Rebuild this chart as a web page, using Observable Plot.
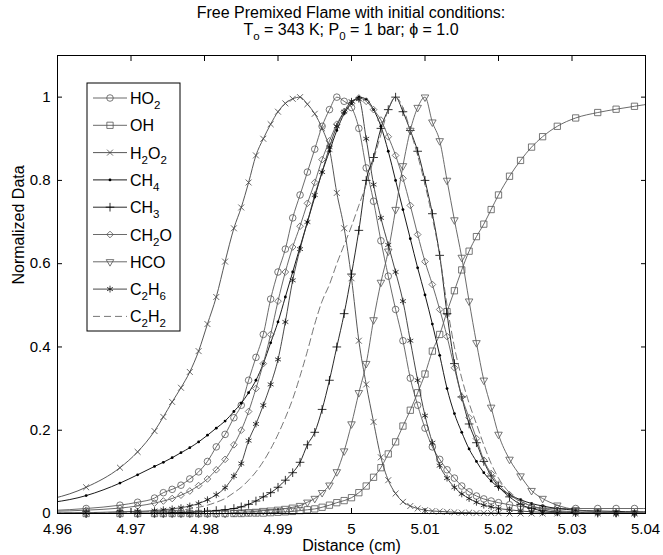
<!DOCTYPE html>
<html>
<head>
<meta charset="utf-8">
<script src="https://cdn.jsdelivr.net/npm/d3@7"></script>
<script src="https://cdn.jsdelivr.net/npm/@observablehq/plot@0.6"></script>
<style>
  html, body { margin: 0; padding: 0; background: #fff; overflow: hidden; }
</style>
</head>
<body>
<div id="chart"></div>
<script>
// ---------- data ----------
const distance = [4.955, 4.9639, 4.9685, 4.9709, 4.9732, 4.9744, 4.9756, 4.9768, 4.978, 4.9792, 4.9804, 4.9816, 4.9828, 4.984,
  4.985, 4.986, 4.987, 4.988, 4.989, 4.990, 4.991, 4.992, 4.993, 4.994, 4.995, 4.996, 4.997, 4.998, 4.999, 5.000,
  5.001, 5.002, 5.003, 5.004, 5.005, 5.006, 5.007, 5.008, 5.009, 5.010, 5.011, 5.012, 5.013, 5.014, 5.015, 5.016,
  5.017, 5.018, 5.019, 5.020, 5.0215, 5.023, 5.0245, 5.026, 5.028, 5.0305, 5.0335, 5.036, 5.0385, 5.041];

const HO2 = [0.005, 0.012, 0.02, 0.027, 0.037, 0.05, 0.058, 0.068, 0.083, 0.1, 0.125, 0.16, 0.19, 0.23,
  0.26, 0.32, 0.375, 0.43, 0.515, 0.58, 0.635, 0.71, 0.765, 0.82, 0.875, 0.93, 0.97, 1.0, 0.99, 0.975,
  0.925, 0.83, 0.75, 0.655, 0.57, 0.49, 0.415, 0.325, 0.26, 0.205, 0.16, 0.13, 0.105, 0.085, 0.066, 0.052,
  0.042, 0.035, 0.03, 0.026, 0.021, 0.017, 0.014, 0.013, 0.012, 0.012, 0.012, 0.012, 0.012, 0.012];

const OH = [0, 0, 0, 0, 0, 0, 0, 0, 0, 0, 0, 0, 0, 0,
  0, 0.001, 0.001, 0.001, 0.002, 0.003, 0.004, 0.005, 0.007, 0.009, 0.011, 0.015, 0.02, 0.026, 0.031, 0.038,
  0.05, 0.066, 0.087, 0.11, 0.143, 0.172, 0.21, 0.248, 0.29, 0.335, 0.39, 0.43, 0.485, 0.535, 0.585, 0.63,
  0.665, 0.695, 0.73, 0.765, 0.81, 0.848, 0.88, 0.905, 0.93, 0.95, 0.963, 0.971, 0.978, 0.985];

const H2O2 = [0.022, 0.063, 0.11, 0.148, 0.198, 0.232, 0.268, 0.302, 0.34, 0.39, 0.455, 0.52, 0.605, 0.685,
  0.735, 0.795, 0.86, 0.9, 0.935, 0.965, 0.985, 0.996, 1.0, 0.983, 0.96, 0.925, 0.875, 0.77, 0.685, 0.565,
  0.415, 0.31, 0.22, 0.135, 0.08, 0.048, 0.028, 0.018, 0.012, 0.008, 0.006, 0.005, 0.004, 0.003, 0.002, 0.002,
  0.001, 0.001, 0.001, 0.001, 0, 0, 0, 0, 0, 0, 0, 0, 0, 0];

const CH4 = [0.02, 0.043, 0.073, 0.093, 0.113, 0.123, 0.134, 0.146, 0.158, 0.172, 0.188, 0.205, 0.222, 0.245,
  0.265, 0.29, 0.32, 0.36, 0.41, 0.46, 0.52, 0.58, 0.64, 0.70, 0.76, 0.82, 0.87, 0.92, 0.96, 0.985,
  1.0, 0.995, 0.97, 0.93, 0.87, 0.80, 0.73, 0.66, 0.59, 0.525, 0.455, 0.38, 0.30, 0.24, 0.195, 0.155,
  0.125, 0.098, 0.078, 0.063, 0.045, 0.033, 0.024, 0.018, 0.012, 0.008, 0.006, 0.005, 0.004, 0.004];

const CH3 = [0, 0, 0, 0.001, 0.001, 0.001, 0.002, 0.002, 0.003, 0.004, 0.005, 0.007, 0.009, 0.012,
  0.016, 0.022, 0.03, 0.04, 0.05, 0.063, 0.08, 0.098, 0.123, 0.165, 0.195, 0.25, 0.32, 0.40, 0.48, 0.575,
  0.68, 0.80, 0.855, 0.925, 0.97, 1.0, 0.965, 0.92, 0.87, 0.80, 0.72, 0.62, 0.48, 0.36, 0.28, 0.215,
  0.17, 0.125, 0.09, 0.065, 0.04, 0.022, 0.012, 0.007, 0.004, 0.002, 0.001, 0.001, 0, 0];

const CH2O = [0.004, 0.008, 0.013, 0.018, 0.025, 0.03, 0.036, 0.044, 0.054, 0.067, 0.083, 0.105, 0.13, 0.165,
  0.2, 0.245, 0.3, 0.36, 0.43, 0.51, 0.58, 0.64, 0.69, 0.745, 0.795, 0.85, 0.895, 0.935, 0.965, 0.985,
  0.998, 0.99, 0.97, 0.945, 0.905, 0.86, 0.805, 0.74, 0.67, 0.605, 0.55, 0.49, 0.425, 0.35, 0.28, 0.23,
  0.18, 0.128, 0.096, 0.07, 0.045, 0.029, 0.018, 0.012, 0.007, 0.004, 0.003, 0.002, 0.002, 0.002];

const HCO = [0, 0, 0, 0, 0, 0, 0, 0, 0, 0, 0, 0, 0, 0.002,
  0.003, 0.004, 0.005, 0.007, 0.008, 0.01, 0.012, 0.015, 0.019, 0.027, 0.036, 0.05, 0.068, 0.1, 0.15, 0.215,
  0.29, 0.36, 0.465, 0.555, 0.63, 0.73, 0.835, 0.92, 0.975, 1.0, 0.94, 0.895, 0.80, 0.705, 0.615, 0.51,
  0.41, 0.32, 0.255, 0.19, 0.13, 0.09, 0.055, 0.036, 0.02, 0.009, 0.004, 0.002, 0.001, 0.001];

const C2H6 = [0.001, 0.002, 0.004, 0.005, 0.007, 0.009, 0.011, 0.014, 0.018, 0.024, 0.033, 0.045, 0.062, 0.09,
  0.12, 0.175, 0.215, 0.26, 0.31, 0.37, 0.46, 0.56, 0.635, 0.70, 0.765, 0.82, 0.88, 0.93, 0.965, 0.99,
  0.995, 0.90, 0.79, 0.71, 0.645, 0.58, 0.51, 0.415, 0.32, 0.235, 0.17, 0.115, 0.085, 0.063, 0.047, 0.036,
  0.027, 0.02, 0.016, 0.012, 0.009, 0.006, 0.004, 0.003, 0.002, 0.001, 0.001, 0, 0, 0];

const C2H2 = [0.001, 0.002, 0.003, 0.004, 0.005, 0.006, 0.007, 0.008, 0.011, 0.015, 0.02, 0.027, 0.036, 0.05,
  0.063, 0.08, 0.1, 0.125, 0.155, 0.19, 0.23, 0.275, 0.33, 0.39, 0.455, 0.51, 0.55, 0.6, 0.645, 0.69,
  0.74, 0.79, 0.85, 0.91, 0.97, 1.0, 0.975, 0.92, 0.86, 0.79, 0.71, 0.62, 0.5, 0.40, 0.325, 0.265,
  0.215, 0.165, 0.12, 0.085, 0.05, 0.03, 0.018, 0.01, 0.005, 0.003, 0.002, 0.001, 0.001, 0];

const species = ["HO2", "OH", "H2O2", "CH4", "CH3", "CH2O", "HCO", "C2H6", "C2H2"];
const xTicks = [4.96, 4.97, 4.98, 4.99, 5.00, 5.01, 5.02, 5.03, 5.04];
const xTickLabels = ["4.96", "4.97", "4.98", "4.99", "5", "5.01", "5.02", "5.03", "5.04"];
const yTicks = [0, 0.2, 0.4, 0.6, 0.8, 1.0];
const yTickLabels = ["0", "0.2", "0.4", "0.6", "0.8", "1"];
const titleLine1 = "Free Premixed Flame with initial conditions:";
const titleLine2 = [["T", false], ["o", true], [" = 343 K; P", false], ["0", true], [" = 1 bar; \u03d5 = 1.0", false]];
const xLabel = "Distance (cm)";
const yLabel = "Normalized Data";

// ---------- styles ----------
const FONT = '"Liberation Sans", Arial, Helvetica, sans-serif';
const W = 663, H = 555;
const M = {top: 55, right: 18, bottom: 42, left: 57};
const xDomain = [4.96, 5.04];
const yDomain = [0, 1.1];

const styles = {
  HO2:  {line: "#5a5a5a", symbol: "circle",    r: 3.3, mark: "#555", fill: "none"},
  OH:   {line: "#5a5a5a", symbol: "square2",   r: 4.0, mark: "#555", fill: "none"},
  H2O2: {line: "#444",    symbol: "times",     r: 2.8, mark: "#444", fill: "none"},
  CH4:  {line: "#000",    symbol: "circle",    r: 1.4, mark: "none", fill: "#000"},
  CH3:  {line: "#111",    symbol: "plus",      r: 2.9, mark: "#000", fill: "none"},
  CH2O: {line: "#5a5a5a", symbol: "diamond2",  r: 3.0, mark: "#555", fill: "none"},
  HCO:  {line: "#5a5a5a", symbol: "triangle2", r: 3.6, mark: "#555", fill: "none", rotate: 180},
  C2H6: {line: "#333",    symbol: "asterisk",  r: 3.2, mark: "#111", fill: "none"},
  C2H2: {line: "#666",    symbol: null, dash: "7,4"}
};
const valuesBy = {HO2, OH, H2O2, CH4, CH3, CH2O, HCO, C2H6, C2H2};
const symbolFns = {
  circle: d3.symbolCircle, square2: d3.symbolSquare2, times: d3.symbolTimes, plus: d3.symbolPlus,
  diamond2: d3.symbolDiamond2, triangle2: d3.symbolTriangle2, asterisk: d3.symbolAsterisk
};

// ---------- marks ----------
const marks = [];
for (const name of species) {
  const st = styles[name];
  const rows = distance.map((x, i) => ({x, y: valuesBy[name][i]}));
  marks.push(Plot.line(rows, {
    x: "x", y: "y", stroke: st.line, strokeWidth: 0.9, curve: "monotone-x", clip: true,
    strokeDasharray: st.dash
  }));
  if (st.symbol) {
    marks.push(Plot.dot(rows.filter(d => d.x >= xDomain[0] && d.x <= xDomain[1]), {
      x: "x", y: "y", symbol: st.symbol, r: st.r, stroke: st.mark, fill: st.fill,
      strokeWidth: 0.8, rotate: st.rotate || 0
    }));
  }
}

const fmtX = d => xTickLabels[xTicks.indexOf(d)];
const fmtY = d => yTickLabels[yTicks.indexOf(d)];

marks.push(
  Plot.frame({stroke: "#000", strokeWidth: 1}),
  Plot.axisX(xTicks, {anchor: "bottom", tickSize: -5, tickPadding: 15, tickFormat: fmtX, fontSize: 15, label: null}),
  Plot.axisX(xTicks, {anchor: "top", tickSize: -5, tickFormat: () => "", label: null}),
  Plot.axisY(yTicks, {anchor: "left", tickSize: -5, tickPadding: 12, tickFormat: fmtY, fontSize: 15, label: null}),
  Plot.axisY(yTicks, {anchor: "right", tickSize: -5, tickFormat: () => "", label: null}),
  Plot.text([xLabel], {frameAnchor: "bottom", dy: 37, fontSize: 16}),
  Plot.text([yLabel], {frameAnchor: "left", dx: -39, rotate: -90, fontSize: 16})
);

const svg = Plot.plot({
  width: W, height: H,
  marginTop: M.top, marginRight: M.right, marginBottom: M.bottom, marginLeft: M.left,
  x: {domain: xDomain},
  y: {domain: yDomain},
  style: {fontFamily: FONT, fontSize: "16px", background: "#fff", color: "#000", overflow: "visible"},
  marks
});

// ---------- title & legend (text with sub-scripts) ----------
const root = d3.select(svg);
const cx = (M.left + (W - M.right)) / 2;

function appendRuns(textSel, runs, size) {
  let shifted = false;
  for (const [str, sub] of runs) {
    const ts = textSel.append("tspan").text(str);
    if (sub && !shifted) { ts.attr("dy", 5).attr("font-size", size * 0.72); shifted = true; }
    else if (sub) { ts.attr("font-size", size * 0.72); }
    else if (!sub && shifted) { ts.attr("dy", -5); shifted = false; }
  }
}
function formulaRuns(str) {
  return str.match(/\d+|\D+/g).map(s => [s, /\d/.test(s)]);
}

const tg = root.append("g").attr("font-family", FONT).attr("font-size", 16)
  .attr("text-anchor", "middle").attr("fill", "#000");
tg.append("text").attr("x", cx).attr("y", 18).text(titleLine1);
appendRuns(tg.append("text").attr("x", cx).attr("y", 35), titleLine2, 16);

const lg = root.append("g").attr("font-family", FONT).attr("font-size", 16).attr("text-anchor", "start");
const boxX = M.left + 30, boxY = M.top + 28, boxW = 93, boxH = 248;
lg.append("rect").attr("x", boxX).attr("y", boxY).attr("width", boxW).attr("height", boxH)
  .attr("fill", "#fff").attr("stroke", "#000").attr("stroke-width", 1);
species.forEach((name, i) => {
  const st = styles[name];
  const cy = boxY + 15 + i * 27.3;
  lg.append("line").attr("x1", boxX + 6).attr("x2", boxX + 40).attr("y1", cy).attr("y2", cy)
    .attr("stroke", st.line).attr("stroke-width", 0.9).attr("stroke-dasharray", st.dash || null);
  if (st.symbol) {
    lg.append("path").attr("d", d3.symbol(symbolFns[st.symbol], Math.PI * st.r * st.r)())
      .attr("transform", `translate(${boxX + 23},${cy}) rotate(${st.rotate || 0})`)
      .attr("fill", st.fill).attr("stroke", st.mark === "none" ? null : st.mark).attr("stroke-width", 0.8);
  }
  const t = lg.append("text").attr("x", boxX + 43).attr("y", cy + 6).attr("fill", "#000");
  appendRuns(t, formulaRuns(name), 16);
});

document.getElementById("chart").appendChild(svg);
</script>
</body>
</html>
